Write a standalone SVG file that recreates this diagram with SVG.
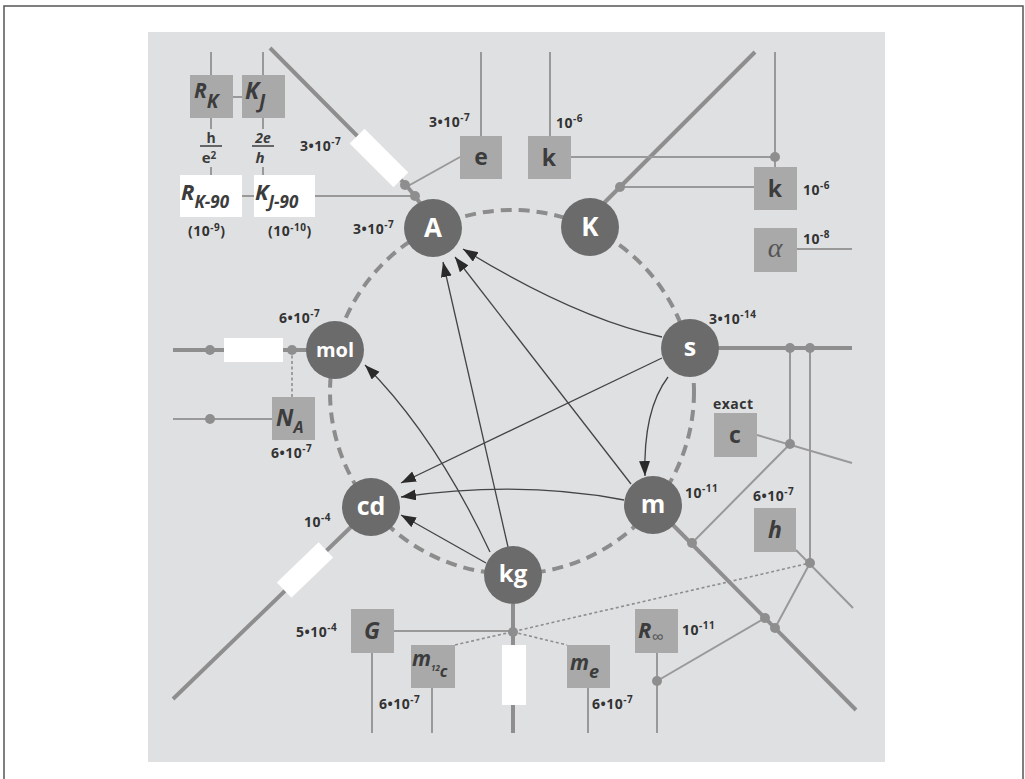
<svg xmlns="http://www.w3.org/2000/svg" width="1025" height="779" viewBox="0 0 1025 779">
<defs>
<marker id="ah" markerWidth="17" markerHeight="12" refX="15" refY="5.5" orient="auto" markerUnits="userSpaceOnUse"><path d="M0,0 L15,5.5 L0,11 z" fill="#2a2a2a"/></marker>
<style>
.thick{stroke:#8e8e8e;stroke-width:4;fill:none}
.thin{stroke:#999;stroke-width:2;fill:none}
.dotl{stroke:#8e8e8e;stroke-width:1.6;stroke-dasharray:3 2.5;fill:none}
.arr{stroke:#444;stroke-width:1.3;fill:none;marker-end:url(#ah)}
.dot{fill:#8e8e8e}
.node circle{fill:#6b6b6b}
.node text{fill:#fff;font-family:"Open Sans","Liberation Sans",sans-serif;font-weight:bold;text-anchor:middle}
.box{fill:#a9a9a9}
.wbox{fill:#fff}
.bt{fill:#3c3c3c;font-family:"Open Sans","Liberation Sans",sans-serif;font-weight:bold}
.it{font-style:italic}
.n{fill:#333;font-family:"Open Sans","Liberation Sans",sans-serif;font-weight:bold;font-size:14px;letter-spacing:0.5px}
.sup{font-size:10px}
</style>
</defs>
<rect x="0" y="0" width="1025" height="779" fill="#fff"/>
<path d="M4,785 V6 H1023 V785" fill="none" stroke="#555" stroke-width="1.5"/>
<rect x="148" y="32" width="737" height="730" fill="#dfe0e2"/>
<circle cx="512" cy="392" r="182" fill="none" stroke="#8c8c8c" stroke-width="4" stroke-dasharray="11 7"/>
<g id="connectors">
<polyline class="thick" points="270,48 405,184 415,196 422,206"/>
<line class="thick" x1="600" y1="207" x2="755" y2="52"/>
<line class="thick" x1="173" y1="350" x2="307" y2="350"/>
<line class="thick" x1="718" y1="348" x2="852" y2="348"/>
<line class="thick" x1="352" y1="526" x2="173" y2="699"/>
<line class="thick" x1="672" y1="524" x2="856" y2="710"/>
<line class="thick" x1="513" y1="604" x2="513" y2="733"/>
<path class="thin" d="M211,52V75 M211,118V129 M211,167V175 M263,52V75 M263,118V129 M263,167V175 M233,97H242 M242,196H254"/>
<line class="thin" x1="315" y1="196" x2="415" y2="196" stroke-width="2.5"/>
<path class="thin" d="M481,52V136 M460,157L408,186 M550,52V136 M571,157H775 M775,52V167 M620,187H754 M797,249H852"/>
<line class="dotl" x1="292" y1="350" x2="292" y2="397"/>
<path class="thin" d="M173,419H272"/>
<path class="thin" d="M790,348V444 M810,348V563 M757,435L852,463 M790,444L692,543 M796,550L853,608 M810,563L775,628"/>
<path class="thin" d="M657,653V733 M657,681L765,618 M394,631H513 M372,653V733 M432,688V733 M588,688V733"/>
<line class="dotl" x1="455" y1="645" x2="810" y2="563"/>
<line class="dotl" x1="513" y1="632" x2="567" y2="645"/>
<g class="dot">
<circle cx="405" cy="185" r="5"/><circle cx="415" cy="196" r="5"/>
<circle cx="620" cy="187" r="5"/><circle cx="775" cy="157" r="5"/>
<circle cx="210" cy="350" r="5"/><circle cx="292" cy="350" r="5"/><circle cx="210" cy="419" r="5"/>
<circle cx="790" cy="348" r="5"/><circle cx="810" cy="348" r="5"/><circle cx="790" cy="444" r="5"/><circle cx="810" cy="563" r="5"/>
<circle cx="692" cy="543" r="5"/><circle cx="765" cy="618" r="5"/><circle cx="775" cy="628" r="5"/>
<circle cx="657" cy="681" r="5"/><circle cx="513" cy="632" r="5"/>
</g>
<rect class="wbox" x="-31" y="-10.5" width="62" height="21" transform="translate(379,158) rotate(45)"/>
<rect class="wbox" x="-29" y="-10.5" width="58" height="21" transform="translate(305,570) rotate(-44)"/>
<rect class="wbox" x="224" y="338" width="59" height="24"/>
<rect class="wbox" x="502" y="645" width="24" height="60"/>
<path class="arr" d="M662,337 Q575,318 463,249"/>
<path class="arr" d="M631,484 L455,257"/>
<path class="arr" d="M508,547 L443,262"/>
<path class="arr" d="M662,358 L401,483"/>
<path class="arr" d="M624,500 Q520,480 401,497"/>
<path class="arr" d="M486,563 L401,515"/>
<path class="arr" d="M490,552 Q435,435 365,365"/>
<path class="arr" d="M668,377 Q643,410 645,476"/>
</g>
<g id="node-A" class="node"><circle cx="433" cy="228" r="29"/><text x="433" y="237" font-size="26">A</text></g>
<g id="node-K" class="node"><circle cx="590" cy="227" r="29"/><text x="590" y="236" font-size="26">K</text></g>
<g id="node-mol" class="node"><circle cx="335" cy="350" r="29"/><text x="335" y="357" font-size="20">mol</text></g>
<g id="node-s" class="node"><circle cx="690" cy="348" r="29"/><text x="690" y="356" font-size="25">s</text></g>
<g id="node-cd" class="node"><circle cx="371" cy="507" r="29"/><text x="371" y="515" font-size="25">cd</text></g>
<g id="node-m" class="node"><circle cx="653" cy="505" r="29"/><text x="653" y="513" font-size="25">m</text></g>
<g id="node-kg" class="node"><circle cx="513" cy="575" r="29"/><text x="513" y="582" font-size="24">kg</text></g>
<g id="node-RK"><rect class="box" x="190" y="75" width="43" height="43"/><text class="bt it" x="194" y="98" font-size="21">R<tspan dy="10" font-size="19">K</tspan></text></g>
<g id="node-KJ"><rect class="box" x="242" y="75" width="43" height="43"/><text class="bt it" x="245" y="99" font-size="23">K<tspan dy="9" font-size="19">J</tspan></text></g>
<g id="frac-RK"><text class="bt" x="211" y="143" font-size="14" text-anchor="middle">h</text><line x1="200" y1="146" x2="222" y2="146" stroke="#3c3c3c" stroke-width="1.5"/><text class="bt" x="209" y="163" font-size="15" text-anchor="middle">e<tspan dy="-4" font-size="10">2</tspan></text></g>
<g id="frac-KJ"><text class="bt it" x="263" y="143" font-size="14" text-anchor="middle">2e</text><line x1="252" y1="146" x2="274" y2="146" stroke="#3c3c3c" stroke-width="1.5"/><text class="bt it" x="260" y="163" font-size="15" text-anchor="middle">h</text></g>
<g id="node-RK90"><rect class="wbox" x="180" y="175" width="62" height="42"/><text class="bt it" x="181" y="200" font-size="22" fill="#333">R<tspan dy="8" font-size="17">K-90</tspan></text><text class="n" x="188" y="236">(10<tspan class="sup" dy="-5">-9</tspan><tspan dy="5">)</tspan></text></g>
<g id="node-KJ90"><rect class="wbox" x="254" y="175" width="61" height="42"/><text class="bt it" x="255" y="200" font-size="22" fill="#333">K<tspan dy="8" font-size="17">J-90</tspan></text><text class="n" x="268" y="236">(10<tspan class="sup" dy="-5">-10</tspan><tspan dy="5">)</tspan></text></g>
<g id="node-e"><rect class="box" x="460" y="136" width="42" height="43"/><text class="bt" x="481" y="165" font-size="23" text-anchor="middle">e</text></g>
<g id="node-k1"><rect class="box" x="528" y="136" width="43" height="43"/><text class="bt" x="549" y="166" font-size="23" text-anchor="middle">k</text></g>
<g id="node-k2"><rect class="box" x="754" y="167" width="43" height="43"/><text class="bt" x="775" y="197" font-size="23" text-anchor="middle">k</text></g>
<g id="node-alpha"><rect class="box" x="754" y="228" width="43" height="44"/><text x="775" y="257" font-size="28" font-style="italic" fill="#555" text-anchor="middle" font-family="Liberation Serif, serif">α</text></g>
<g id="node-NA"><rect class="box" x="272" y="397" width="43" height="43"/><text class="bt it" x="276" y="426" font-size="23">N<tspan dy="7" font-size="16">A</tspan></text></g>
<g id="node-c"><rect class="box" x="714" y="413" width="43" height="44"/><text class="bt" x="735" y="443" font-size="23" text-anchor="middle">c</text></g>
<g id="node-h"><rect class="box" x="754" y="508" width="42" height="44"/><text class="bt it" x="775" y="538" font-size="23" text-anchor="middle">h</text></g>
<g id="node-G"><rect class="box" x="351" y="609" width="43" height="44"/><text class="bt it" x="372" y="639" font-size="23" text-anchor="middle">G</text></g>
<g id="node-m12c"><rect class="box" x="411" y="645" width="44" height="43"/><text class="bt it" x="412" y="666" font-size="21">m<tspan dy="5" font-size="8">12</tspan><tspan dy="6" font-size="16">c</tspan></text></g>
<g id="node-me"><rect class="box" x="567" y="645" width="43" height="43"/><text class="bt it" x="570" y="670" font-size="21">m<tspan dy="8" font-size="18">e</tspan></text></g>
<g id="node-Rinf"><rect class="box" x="635" y="609" width="43" height="44"/><text class="bt it" x="638" y="638" font-size="22">R<tspan dy="5" font-size="17" font-weight="normal" fill="#555">∞</tspan></text></g>
<g id="labels">
<text class="n" x="300" y="151">3•10<tspan class="sup" dy="-6">-7</tspan></text>
<text class="n" x="353" y="234">3•10<tspan class="sup" dy="-6">-7</tspan></text>
<text class="n" x="429" y="127">3•10<tspan class="sup" dy="-6">-7</tspan></text>
<text class="n" x="556" y="128">10<tspan class="sup" dy="-6">-6</tspan></text>
<text class="n" x="803" y="195">10<tspan class="sup" dy="-6">-6</tspan></text>
<text class="n" x="803" y="244">10<tspan class="sup" dy="-6">-8</tspan></text>
<text class="n" x="279" y="323">6•10<tspan class="sup" dy="-6">-7</tspan></text>
<text class="n" x="271" y="458">6•10<tspan class="sup" dy="-6">-7</tspan></text>
<text class="n" x="709" y="324">3•10<tspan class="sup" dy="-6">-14</tspan></text>
<text class="n" x="713" y="409">exact</text>
<text class="n" x="685" y="498">10<tspan class="sup" dy="-6">-11</tspan></text>
<text class="n" x="753" y="501">6•10<tspan class="sup" dy="-6">-7</tspan></text>
<text class="n" x="304" y="527">10<tspan class="sup" dy="-6">-4</tspan></text>
<text class="n" x="296" y="637">5•10<tspan class="sup" dy="-6">-4</tspan></text>
<text class="n" x="379" y="709">6•10<tspan class="sup" dy="-6">-7</tspan></text>
<text class="n" x="592" y="709">6•10<tspan class="sup" dy="-6">-7</tspan></text>
<text class="n" x="682" y="635">10<tspan class="sup" dy="-6">-11</tspan></text>
</g>
</svg>
